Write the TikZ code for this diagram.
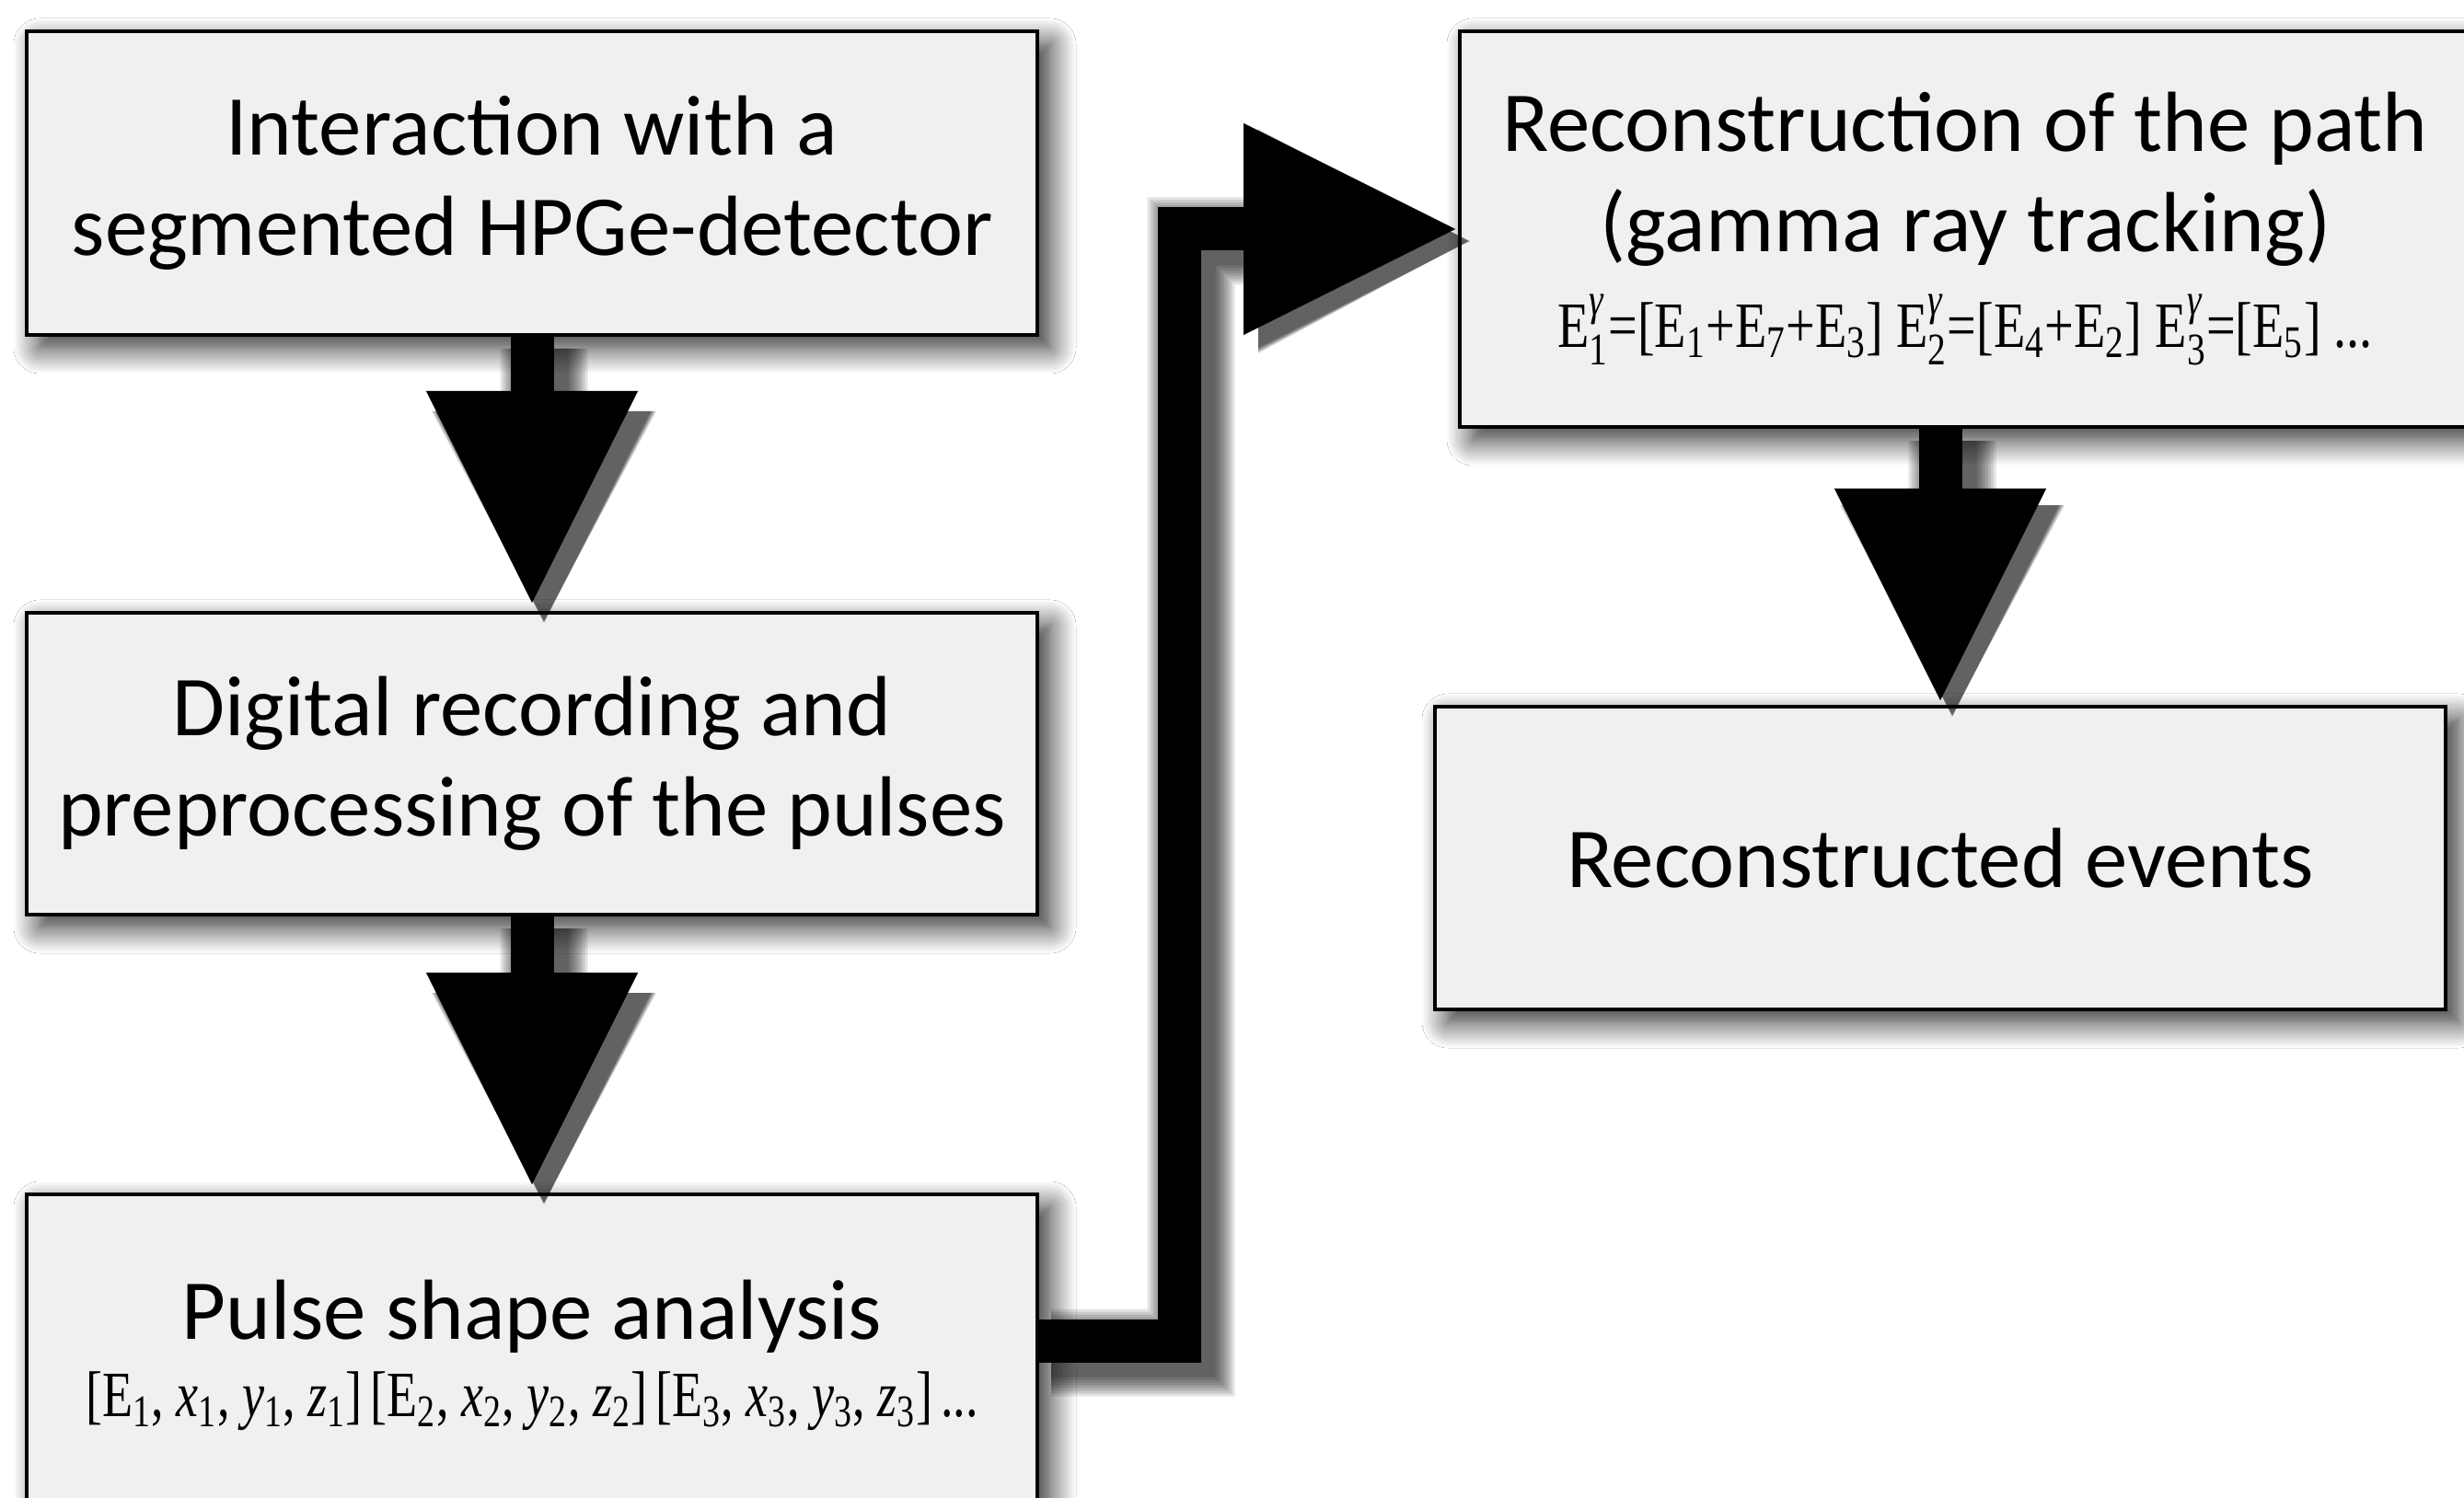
\documentclass[tikz,border=0pt]{standalone}
\usepackage{amsmath}
\usepackage{fontspec}
\setmainfont{Carlito}
\newfontfamily\formfont{Liberation Serif}
\usetikzlibrary{arrows.meta,calc,shadows.blur}

\definecolor{boxgray}{HTML}{F0F0F0}

\tikzset{
  stage/.style={draw=black, line width=0.04cm, fill=boxgray, minimum width=10.98cm,
    align=center, font=\fontsize{26.4}{31}\selectfont,
    blur shadow={shadow xshift=0.14cm, shadow yshift=-0.14cm, shadow blur radius=0.28cm,
      shadow blur steps=14, shadow opacity=85}},
  bigarrow/.style={line width=0.47cm,
    -{Triangle[length=2.3cm,width=2.3cm,line width=0.01pt]}},
}
% subscripts and tracked energies
\newcommand{\sub}[1]{$_{\text{#1}}$}
\newcommand{\eg}[1]{E$^{\text{\itshape γ}}_{\text{#1}}$}
\newcommand{\formline}[2][0.8]{{\formfont\fontsize{20}{22}\selectfont\scalebox{#1}[1]{#2}}}
% soft shadow under a thick arrow
\newcommand{\arrowshade}[1]{%
  \foreach \k [evaluate=\k as \w using 0.06*\k] in {1,...,8}{
    \begin{scope}[transparency group, opacity=0.11, transform canvas={shift={(0.13,-0.13)}}]
      \draw[line width={0.47cm+\w cm}, line join=miter,
        -{Triangle[length=2.3cm,width=2.3cm,line width=\w cm]}] #1;
    \end{scope}
  }}

\begin{document}
\begin{tikzpicture}
\useasboundingbox (0,0) rectangle (26.77,16.27);
\clip (0,0) rectangle (26.77,16.27);
\fill[white] (0,0) rectangle (26.77,16.27);

\node[stage, minimum height=3.30cm] (interaction) at (5.78,14.28)
  {Interaction with a\\segmented HPGe-detector};
\node[stage, minimum height=3.28cm] (recording) at (5.78,7.97)
  {Digital recording and\\preprocessing of the pulses};
\node[stage, minimum height=3.50cm] (psa) at (5.78,1.54)
  {Pulse shape analysis\\[-0.25cm]
   \formline[0.77]{[E\sub{1}, \textit{x}\sub{1}, \textit{y}\sub{1}, \textit{z}\sub{1}]\,[E\sub{2}, \textit{x}\sub{2}, \textit{y}\sub{2}, \textit{z}\sub{2}]\,[E\sub{3}, \textit{x}\sub{3}, \textit{y}\sub{3}, \textit{z}\sub{3}]\,...}};
\node[stage, minimum height=4.30cm] (tracking) at (21.35,13.78)
  {Reconstruction of the path\\(gamma ray tracking)\\[-0.05cm]
   \formline{\eg{1}=[E\sub{1}+E\sub{7}+E\sub{3}] \eg{2}=[E\sub{4}+E\sub{2}] \eg{3}=[E\sub{5}] ...}};
\node[stage, minimum height=3.29cm] (events) at (21.08,6.945)
  {Reconstructed events};

\coordinate (psaout) at ($(psa.north east)+(0,-1.61)$);
\coordinate (bend) at ($(tracking.west)+(-3.03,0)$);

\arrowshade{(interaction) -- (recording)}
\arrowshade{(recording) -- (psa)}
\arrowshade{(psaout) -| (bend) -- (tracking.west)}
\arrowshade{(tracking.south -| events.north) -- (events.north)}

\draw[bigarrow, shorten >=0.09cm] (interaction) -- (recording);
\draw[bigarrow, shorten >=0.09cm] (recording) -- (psa);
\draw[bigarrow, shorten >=0.03cm] (psaout) -| (bend) -- (tracking.west);
\draw[bigarrow, shorten >=0.05cm] (tracking.south -| events.north) -- (events.north);
\end{tikzpicture}
\end{document}
